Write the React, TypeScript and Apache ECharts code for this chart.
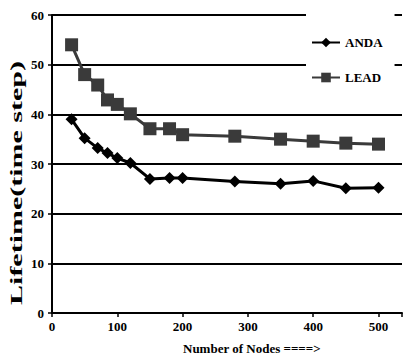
import React, { useEffect, useRef } from "react";
import * as echarts from "echarts";

const nodes = [30, 50, 70, 85, 100, 120, 150, 180, 200, 280, 350, 400, 450, 500];
const anda = [39, 35.2, 33.2, 32.2, 31.2, 30.2, 27, 27.2, 27.2, 26.5, 26, 26.6, 25.1, 25.2];
const lead = [54, 48, 45.9, 42.9, 42, 40.1, 37.1, 37.1, 35.9, 35.6, 35, 34.6, 34.2, 34];
const yTicks = [0, 10, 20, 30, 40, 50, 60];
const xTicks = [0, 100, 200, 300, 400, 500];

export default function App() {
  const ref = useRef<HTMLDivElement>(null);
  useEffect(() => {
    document.body.style.margin = "0";
    const chart = echarts.init(ref.current!, null, { renderer: "svg" });
    const font = "'Liberation Serif', 'Times New Roman', serif";
    chart.setOption({
      animation: false,
      backgroundColor: "#ffffff",
      grid: { left: 52, right: -2, top: 15, bottom: 41 },
      xAxis: {
        type: "value",
        min: 0,
        max: 536,
        interval: 100,
        axisLine: { show: true, lineStyle: { color: "#000", width: 2 } },
        axisTick: { show: true, length: 4, lineStyle: { color: "#000", width: 1.5 } },
        splitLine: { show: false },
        axisLabel: {
          color: "#000",
          fontFamily: font,
          fontWeight: "bold",
          fontSize: 13,
          margin: 7,
          formatter: (v: number) => (xTicks.includes(v) ? String(v) : ""),
        },
      },
      yAxis: {
        type: "value",
        min: 0,
        max: 60,
        interval: 10,
        axisLine: { show: true, lineStyle: { color: "#000", width: 2 } },
        axisTick: { show: true, length: 4, lineStyle: { color: "#000", width: 1.5 } },
        splitLine: { show: true, lineStyle: { color: "#000", width: 2 } },
        axisLabel: {
          color: "#000",
          fontFamily: font,
          fontWeight: "bold",
          fontSize: 13,
          margin: 8,
          formatter: (v: number) => (yTicks.includes(v) ? String(v) : ""),
        },
      },
      legend: {
        orient: "vertical",
        left: 306,
        top: 8,
        width: 110,
        height: 90,
        padding: [28, 12, 22, 5],
        itemGap: 22,
        itemWidth: 28,
        itemHeight: 12,
        backgroundColor: "#ffffff",
        textStyle: { color: "#000", fontFamily: font, fontWeight: "bold", fontSize: 13 },
        data: ["ANDA", "LEAD"],
      },
      graphic: [
        {
          type: "text",
          x: 183,
          y: 348,
          style: {
            text: "Number of Nodes ====>",
            fill: "#000",
            font: "bold 13px 'Liberation Serif', serif",
            align: "left",
            verticalAlign: "middle",
          },
        },
        {
          type: "text",
          x: 17,
          y: 183,
          rotation: Math.PI / 2,
          scaleX: 2.0,
          scaleY: 1.05,
          style: {
            text: "Lifetime(time step)",
            fill: "#000",
            font: "bold 15px 'Liberation Serif', serif",
            align: "center",
            verticalAlign: "middle",
          },
        },
      ],
      series: [
        {
          name: "ANDA",
          type: "line",
          data: nodes.map((n, i) => [n, anda[i]]),
          symbol: "diamond",
          symbolSize: 12,
          itemStyle: { color: "#000000" },
          lineStyle: { color: "#000000", width: 3 },
        },
        {
          name: "LEAD",
          type: "line",
          data: nodes.map((n, i) => [n, lead[i]]),
          symbol: "rect",
          symbolSize: 13,
          itemStyle: { color: "#3a3a3a" },
          lineStyle: { color: "#3a3a3a", width: 3 },
        },
      ],
    });
    return () => chart.dispose();
  }, []);
  return <div ref={ref} style={{ width: 405, height: 354 }} />;
}
